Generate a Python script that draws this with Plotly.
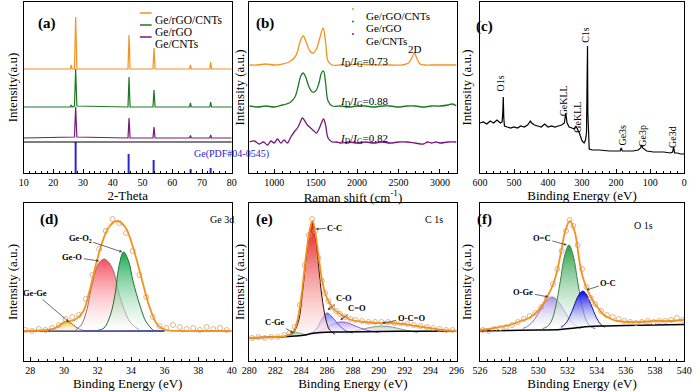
import plotly.graph_objects as go

W, H = 700, 392
SERIF = "Liberation Serif"

# ---------------- (a) XRD ----------------
XRD_OR_X = [10, 25.7, 26.0, 26.3, 27.1, 27.5, 27.9, 45.1, 45.45, 45.8, 53.5, 53.85, 54.2, 65.8, 66.1, 66.4, 72.6, 72.9, 73.2, 80]
XRD_OR_Y = [104, 104, 108, 104, 104, 156, 104, 104, 138, 104, 104, 125, 104, 104, 108, 104, 104, 111, 104, 104]
XRD_GR_X = [10, 25.7, 26.0, 26.3, 27.1, 27.5, 27.9, 45.1, 45.45, 45.8, 53.5, 53.85, 54.2, 65.8, 66.1, 66.4, 72.6, 72.9, 73.2, 80]
XRD_GR_Y = [66, 66, 68, 66, 67, 104, 67, 66, 96, 66, 66, 83, 66, 66, 70, 66, 66, 71, 66, 66]
XRD_PU_X = [10, 27.1, 27.5, 27.9, 45.1, 45.45, 45.8, 53.5, 53.85, 54.2, 65.8, 66.1, 66.4, 72.6, 72.9, 73.2, 80]
XRD_PU_Y = [35, 36, 66, 36, 35, 55, 35, 35, 46, 35, 35, 37.5, 35, 35, 38, 35, 35]
REF_POS = [27.5, 45.45, 53.85, 66.1, 72.9]
REF_INT = [31, 19, 13, 4, 5]
REF_SEPARATOR = 31

# ---------------- (b) Raman ----------------
RA_OR_X = [700, 800, 900, 1000, 1100, 1150, 1200, 1250, 1280, 1310, 1350, 1390, 1430, 1470, 1510, 1550, 1590, 1620, 1650, 1700, 1800, 1900, 2000, 2200, 2400, 2550, 2620, 2660, 2690, 2720, 2760, 2820, 2900, 3000, 3100, 3200]
RA_OR_Y = [108, 108, 109, 108, 109, 110, 112, 116, 121, 131, 137, 130, 122, 120, 124, 135, 145, 131, 112, 108, 108, 108, 109, 108, 108, 108, 110, 115, 120, 115, 109, 108, 108, 108, 108, 108]
RA_GR_X = [700, 800, 900, 1000, 1100, 1150, 1200, 1250, 1290, 1320, 1350, 1380, 1420, 1460, 1500, 1540, 1570, 1595, 1620, 1650, 1700, 1800, 1900, 2000, 2100, 2200, 2300, 2400, 2500, 2600, 2700, 2800, 2900, 3000, 3100, 3150, 3200]
RA_GR_Y = [67, 66, 67, 66, 68, 69, 71, 76, 87, 97, 100, 96, 86, 81, 82, 90, 100, 102, 90, 72, 67, 67, 66, 67, 67, 66, 67, 67, 66, 67, 67, 66, 67, 67, 68, 69, 67]
RA_PU_X = [700, 760, 820, 870, 920, 960, 1000, 1040, 1080, 1120, 1160, 1200, 1240, 1280, 1310, 1340, 1370, 1400, 1440, 1480, 1510, 1540, 1570, 1595, 1620, 1650, 1700, 1750, 1800, 1900, 2000, 2100, 2200, 2300, 2400, 2500, 2600, 2700, 2800, 2850, 2900, 2950, 3000, 3100, 3200]
RA_PU_Y = [31, 32, 29, 31, 28, 32, 30, 34, 30, 33, 30, 36, 41, 45, 50, 55, 52, 48, 45, 42, 40, 44, 50, 54, 48, 35, 31, 31, 30, 31, 30, 31, 30, 31, 30, 31, 31, 30, 29, 31, 30, 31, 30, 31, 31]
RA_RATIOS = ["0.73", "0.88", "0.82"]

# ---------------- (c) XPS survey ----------------
SV_X = [600, 590, 580, 570, 560, 550, 540, 535, 533, 531.5, 530, 528, 520, 510, 500, 490, 480, 470, 460, 452, 448, 440, 430, 420, 410, 400, 390, 380, 370, 360, 352, 348, 344, 338, 330, 322, 318, 314, 308, 300, 294, 290, 287, 285, 284, 283, 281, 279, 270, 250, 220, 200, 188, 185, 182, 170, 150, 135, 128, 125, 122, 110, 90, 60, 40, 34, 31, 28, 20, 10, 0]
SV_Y = [50, 51, 49, 52, 50, 53, 50, 51, 60, 76, 55, 47, 46, 45, 46, 45, 47, 46, 48, 52, 50, 48, 47, 46, 49, 46, 47, 46, 47, 48, 50, 60, 50, 46, 45, 44, 47, 44, 40, 32, 30, 33, 40, 100, 127, 60, 26, 24, 23, 23, 22, 22, 22, 25, 22, 22, 22, 23, 25, 28, 25, 22, 21, 21, 20, 21, 26, 20, 20, 19, 19]
SV_LABELS = ["O1s", "GeKLL", "GeKLL", "C1s", "Ge3s", "Ge3p", "Ge3d"]
SV_LABEL_X = [537, 352, 313, 289, 181, 122, 33]
SV_LABEL_Y = [90, 72, 56, 138, 38, 37, 36]

# ---------------- (d) Ge 3d ----------------
D_ENV_X = [27.6, 28.5, 29.0, 29.5, 30.06, 30.64, 31.13, 31.51, 31.9, 32.29, 32.68, 33.16, 33.65, 34.13, 34.62, 35.1, 35.58, 36.07, 37, 38, 39, 40]
D_ENV_Y = [30, 30.5, 31, 33, 39, 41, 49, 69, 96, 119, 134, 140, 134, 113, 83, 54, 36, 31, 30, 30, 30, 30]
D_GEO_X = [30.7, 31.03, 31.33, 31.71, 32.05, 32.39, 32.7, 32.97, 33.36, 33.94, 34.5]
D_GEO_Y = [31, 36, 49, 79, 97, 102, 98, 89, 63, 39, 31]
D_GEO2_X = [32.0, 32.39, 32.77, 33.07, 33.26, 33.55, 33.85, 34.13, 34.52, 34.9, 35.3]
D_GEO2_Y = [30.5, 33, 46, 69, 93, 109, 100, 79, 56, 39, 31]
D_GEGE_X = [29.2, 29.6, 29.9, 30.1, 30.4, 30.8, 31.2]
D_GEGE_Y = [30.5, 34, 38, 39.5, 38, 33, 30.5]
D_BASE_X = [27.6, 36.0]
D_BASE_Y = [30, 30]
D_PTS_X = [27.7, 28.1, 28.5, 28.9, 29.3, 29.7, 30.1, 30.5, 30.9, 31.3, 31.7, 32.1, 32.5, 32.9, 33.3, 33.7, 34.1, 34.5, 34.9, 35.3, 35.7, 36.1, 36.5, 36.9, 37.3, 37.7, 38.1, 38.5, 38.9, 39.3, 39.7]
D_PTS_Y = [31, 30, 32, 31, 33, 36, 42, 44, 46, 62, 86, 112, 130, 142, 138, 128, 110, 86, 64, 44, 35, 33, 36, 34, 32, 33, 31, 34, 32, 33, 31]

# ---------------- (e) C 1s ----------------
E_ENV_X = [280, 281, 282, 282.8, 283.37, 283.7, 284.0, 284.38, 284.65, 284.88, 285.1, 285.4, 285.64, 285.9, 286.14, 286.5, 286.9, 287.4, 287.9, 288.9, 289.9, 290.9, 291.9, 292.9, 293.9, 294.9, 296]
E_ENV_Y = [23, 23.5, 24, 25, 29, 40, 63, 106, 130, 140, 128, 100, 79, 66, 59, 52, 48, 44, 41, 39, 38, 38, 37, 35, 33, 31, 30]
E_CC_X = [283.0, 283.4, 283.8, 284.1, 284.4, 284.65, 284.85, 285.1, 285.35, 285.6, 285.9, 286.2, 286.6]
E_CC_Y = [25, 28, 40, 68, 105, 130, 139, 125, 95, 65, 42, 31, 27]
E_CO_X = [284.7, 285.2, 285.6, 286.0, 286.4, 286.9, 287.5, 288.0]
E_CO_Y = [27, 32, 42, 48, 44, 36, 30, 28]
E_C2O_X = [284.9, 285.6, 286.3, 287.0, 287.5, 288.2, 289.0, 290.0]
E_C2O_Y = [27, 31, 36, 39, 38.5, 35, 31, 28.5]
E_OCO_X = [287.5, 288.5, 289.5, 290.3, 291.0, 292.0, 293.0]
E_OCO_Y = [28, 31, 34, 35, 34, 31, 28.5]
E_CGE_X = [282.7, 283.2, 283.6, 284.0, 284.4]
E_CGE_Y = [25, 27, 28.5, 27.5, 26]
E_BASE_X = [280, 282, 283.5, 284.3, 284.8, 285.5, 287, 290, 293, 296]
E_BASE_Y = [23, 24, 25, 26, 27.5, 28.5, 29, 29.5, 29.8, 30]
E_PTS_X = [280.2, 280.7, 281.2, 281.7, 282.2, 282.7, 283.1, 283.5, 283.9, 284.3, 284.6, 284.85, 285.1, 285.35, 285.6, 285.85, 286.1, 286.4, 286.7, 287.0, 287.4, 287.8, 288.2, 288.7, 289.2, 289.7, 290.2, 290.7, 291.2, 291.7, 292.2, 292.7, 293.2, 293.7, 294.2, 294.7, 295.2, 295.7]
E_PTS_Y = [23, 24, 23, 24, 24, 26, 28, 34, 56, 96, 126, 142, 130, 103, 80, 68, 60, 54, 50, 47, 44, 42, 41, 40, 39, 39, 39, 39, 38, 38, 37, 36, 35, 34, 33, 32, 31, 31]

# ---------------- (f) O 1s ----------------
F_ENV_X = [526, 527, 528.03, 528.8, 529.37, 529.9, 530.27, 530.6, 530.94, 531.2, 531.38, 531.6, 531.83, 532.16, 532.5, 532.83, 533.05, 533.28, 533.6, 533.84, 534.2, 534.5, 535.0, 535.4, 536.2, 536.97, 538, 539, 540]
F_ENV_Y = [31, 33, 36, 40, 43, 49, 56, 64, 74, 85, 96, 112, 129, 140, 129, 99, 84, 74, 64, 58, 51, 46, 42, 40, 39, 39, 40, 40, 41]
F_OC2_X = [530.3, 530.6, 530.9, 531.2, 531.5, 531.8, 532.1, 532.4, 532.7, 533.0, 533.3, 533.6, 533.9]
F_OC2_Y = [32.5, 34.3, 40, 55, 79, 105, 116, 105, 79, 55, 40, 34.3, 32.5]
F_OGE_X = [528.94, 529.34, 529.74, 530.14, 530.54, 530.94, 531.34, 531.74, 532.14, 532.54, 532.94]
F_OGE_Y = [32.5, 35.5, 41.7, 51, 60, 64, 60, 51, 41.7, 35.5, 32.5]
F_OC_X = [531.55, 531.85, 532.15, 532.45, 532.75, 533.05, 533.35, 533.65, 533.95, 534.25, 534.55]
F_OC_Y = [33.7, 37.1, 44.3, 55, 65.5, 70, 65.5, 55, 44.3, 37.1, 33.7]
F_BASE_X = [526, 528, 530, 531.5, 532.5, 533.5, 534.5, 536, 540]
F_BASE_Y = [30, 30.5, 31, 31.5, 33, 34.5, 35, 35.5, 36.5]
F_PTS_X = [526.2, 526.6, 527.0, 527.4, 527.8, 528.2, 528.6, 529.0, 529.4, 529.8, 530.2, 530.6, 531.0, 531.3, 531.6, 531.9, 532.15, 532.4, 532.7, 533.0, 533.3, 533.6, 533.9, 534.3, 534.7, 535.1, 535.5, 535.9, 536.3, 536.7, 537.1, 537.5, 537.9, 538.3, 538.7, 539.1, 539.5, 539.9]
F_PTS_Y = [31, 30, 32, 33, 34, 36, 39, 42, 45, 48, 54, 63, 77, 92, 110, 130, 141, 135, 116, 92, 74, 63, 57, 50, 46, 44, 42, 40, 39, 38, 39, 40, 39, 40, 40, 41, 43, 41]

SERIES_NAMES = ["Ge/rGO/CNTs", "Ge/rGO", "Ge/CNTs"]
ORANGE, GREEN, PURPLE = "rgb(245,145,30)", "rgb(30,120,35)", "rgb(120,25,120)"
PT_COLOR = "rgb(205,165,115)"

# panel geometry in pixels: (x0, x1, ytop, ybottom)
PANELS = [(16, 229, 2, 173), (247, 459, 2, 173), (483, 692, 2, 173),
          (16, 229, 203, 361), (247, 459, 203, 361), (483, 692, 203, 361)]
XRANGES = [[10, 80], [700, 3200], [600, 0], [27.6, 40], [280, 296], [526, 540]]
XTITLES = ["2-Theta", "Raman shift (cm<sup>-1</sup>)", "Binding Energy (eV)",
           "Binding Energy (eV)", "Binding Energy (eV)", "Binding Energy (eV)"]
YTITLES = ["Intensity(a.u)"] + ["Intensity (a.u.)"] * 5
DTICKS = [10, 500, 100, 2, 2, 2]
TICK0 = [10, 1000, 0, 28, 280, 526]
YSTAND = [1, 0, 4, 1, 0, 4]

fig = go.Figure()
ax = lambda i: ("x" if i == 0 else f"x{i+1}")
ay = lambda i: ("y" if i == 0 else f"y{i+1}")


def line(i, x, y, color, width=1.2, shape="linear", **kw):
    fig.add_trace(go.Scatter(x=x, y=y, mode="lines", xaxis=ax(i), yaxis=ay(i),
                             line=dict(color=color, width=width, shape=shape),
                             showlegend=False, hoverinfo="skip", **kw))


def comp(i, x, y, linecolor, top, bottom, width=1.0):
    fig.add_trace(go.Scatter(x=x, y=y, mode="lines", xaxis=ax(i), yaxis=ay(i),
                             fill="toself",
                             fillgradient=dict(type="vertical", colorscale=[[0, bottom], [1, top]]),
                             line=dict(color=linecolor, width=width, shape="spline"),
                             showlegend=False, hoverinfo="skip"))


def pts(i, x, y):
    fig.add_trace(go.Scatter(x=x, y=y, mode="markers", xaxis=ax(i), yaxis=ay(i),
                             marker=dict(symbol="circle-open", size=5, color=PT_COLOR, line=dict(width=0.8)),
                             showlegend=False, hoverinfo="skip"))


# (a)
fig.add_trace(go.Bar(x=REF_POS, y=REF_INT, width=0.3, marker=dict(color="rgb(40,40,210)", line=dict(width=0)),
                     xaxis="x", yaxis="y", showlegend=False, hoverinfo="skip"))
line(0, XRD_PU_X, XRD_PU_Y, PURPLE)
line(0, XRD_GR_X, XRD_GR_Y, GREEN)
line(0, XRD_OR_X, XRD_OR_Y, ORANGE)

# (b)
line(1, RA_PU_X, RA_PU_Y, PURPLE, 1.3, "spline")
line(1, RA_GR_X, RA_GR_Y, GREEN, 1.3, "spline")
line(1, RA_OR_X, RA_OR_Y, ORANGE, 1.3, "spline")

# (c)
line(2, SV_X, SV_Y, "black", 1.2)

# (d)
line(3, D_BASE_X, D_BASE_Y, "rgb(30,30,140)", 1.5)
comp(3, D_GEGE_X, D_GEGE_Y, "rgb(120,110,30)", "rgb(240,200,50)", "rgba(255,250,220,0.6)")
comp(3, D_GEO_X, D_GEO_Y, "rgb(150,105,105)", "rgb(245,80,95)", "rgba(255,255,255,0.4)")
comp(3, D_GEO2_X, D_GEO2_Y, "rgb(40,110,50)", "rgb(20,170,80)", "rgba(255,255,255,0.4)")
pts(3, D_PTS_X, D_PTS_Y)
line(3, D_ENV_X, D_ENV_Y, ORANGE, 1.8, "spline")

# (e)
comp(4, E_OCO_X, E_OCO_Y, "rgb(150,150,150)", "rgb(180,200,180)", "rgba(255,255,255,0.4)")
comp(4, E_C2O_X, E_C2O_Y, "rgb(150,90,210)", "rgb(190,160,240)", "rgba(255,255,255,0.4)")
comp(4, E_CO_X, E_CO_Y, "rgb(90,90,220)", "rgb(120,130,235)", "rgba(255,255,255,0.4)")
comp(4, E_CGE_X, E_CGE_Y, "rgb(20,120,30)", "rgb(40,170,60)", "rgba(200,240,200,0.6)")
comp(4, E_CC_X, E_CC_Y, "rgb(60,10,10)", "rgb(230,25,25)", "rgba(255,240,240,0.5)")
line(4, E_BASE_X, E_BASE_Y, "black", 1.5, "spline")
pts(4, E_PTS_X, E_PTS_Y)
line(4, E_ENV_X, E_ENV_Y, ORANGE, 1.8, "spline")

# (f)
comp(5, F_OGE_X, F_OGE_Y, "rgb(150,100,200)", "rgb(170,150,230)", "rgba(255,255,255,0.4)")
comp(5, F_OC2_X, F_OC2_Y, "rgb(60,130,70)", "rgb(40,160,70)", "rgba(255,255,255,0.4)")
comp(5, F_OC_X, F_OC_Y, "rgb(20,20,150)", "rgb(0,0,230)", "rgba(255,255,255,0.4)")
line(5, F_BASE_X, F_BASE_Y, "black", 1.5, "spline")
pts(5, F_PTS_X, F_PTS_Y)
line(5, F_ENV_X, F_ENV_Y, ORANGE, 1.8, "spline")

# axes
layout = dict(width=W, height=H, margin=dict(l=0, r=0, t=0, b=0),
              paper_bgcolor="white", plot_bgcolor="white", showlegend=False,
              font=dict(family=SERIF, color="black", size=10))
for i, (x0, x1, yt, yb) in enumerate(PANELS):
    xa = "xaxis" if i == 0 else f"xaxis{i+1}"
    ya = "yaxis" if i == 0 else f"yaxis{i+1}"
    layout[xa] = dict(domain=[x0 / W, x1 / W], anchor=ay(i), range=XRANGES[i],
                      showline=True, mirror=True, linecolor="black", linewidth=1.3,
                      ticks="inside", ticklen=4, tickwidth=1, tickcolor="black",
                      dtick=DTICKS[i], tick0=TICK0[i],
                      minor=dict(ticks="inside", ticklen=2, tickwidth=1, tickcolor="black"),
                      tickfont=dict(family=SERIF, size=10, color="black"),
                      showgrid=False, zeroline=False,
                      title=dict(text=XTITLES[i], font=dict(family=SERIF, size=13), standoff=1))
    layout[ya] = dict(domain=[1 - yb / H, 1 - yt / H], anchor=ax(i), range=[0, yb - yt],
                      showline=True, mirror=True, linecolor="black", linewidth=1.3,
                      ticks="", showticklabels=False, showgrid=False, zeroline=False,
                      title=dict(text=YTITLES[i], font=dict(family=SERIF, size=13), standoff=YSTAND[i]))
fig.update_layout(**layout)

ann = []
shapes = []
# panel letters
LETTERS = ["(a)", "(b)", "(c)", "(d)", "(e)", "(f)"]
LETTER_POS = [(29, 13), (263, 13), (498, 16), (31, 220), (262, 219), (497, 219)]
for t, (px, py) in zip(LETTERS, LETTER_POS):
    ann.append(dict(text=f"<b>{t}</b>", x=px / W, y=1 - py / H, xref="paper", yref="paper",
                    showarrow=False, font=dict(size=15, family=SERIF)))

# legend (a): line samples + text
LEG_A_Y = [13, 25, 37]
for name, col, py in zip(SERIES_NAMES, [ORANGE, GREEN, PURPLE], LEG_A_Y):
    shapes.append(dict(type="line", xref="paper", yref="paper", x0=135 / W, x1=147 / W,
                       y0=1 - py / H, y1=1 - py / H, line=dict(color=col, width=1.5)))
    ann.append(dict(text=name, x=149 / W, y=1 - py / H, xref="paper", yref="paper", xanchor="left",
                    showarrow=False, borderpad=0, font=dict(size=11.5, family=SERIF)))
# legend (b): dots + text
LEG_B_Y = [9, 21.5, 34]
for name, col, py in zip(SERIES_NAMES, [ORANGE, GREEN, PURPLE], LEG_B_Y):
    shapes.append(dict(type="circle", xref="paper", yref="paper", x0=352 / W, x1=354 / W,
                       y0=1 - (py + 1) / H, y1=1 - (py - 1) / H, fillcolor=col, line=dict(width=0)))
    ann.append(dict(text=name, x=365 / W, y=1 - py / H, xref="paper", yref="paper", xanchor="left",
                    showarrow=False, borderpad=0, font=dict(size=11, family=SERIF)))

# separator & ref label in (a)
shapes.append(dict(type="line", xref="x domain", yref="y", x0=0, x1=1, y0=REF_SEPARATOR, y1=REF_SEPARATOR,
                   line=dict(color="black", width=1.2)))
ann.append(dict(text="Ge(PDF#04-0545)", x=188 / W, y=1 - 154 / H, xref="paper", yref="paper",
                showarrow=False, font=dict(size=10, family=SERIF, color="rgb(40,40,200)")))

# Raman annotations
for r, py in zip(RA_RATIOS, [53, 93, 130]):
    ann.append(dict(text=f"<i>I</i><sub>D</sub>/<i>I</i><sub>G</sub>={r}", x=338 / W, y=1 - py / H,
                    xref="paper", yref="paper", xanchor="left", showarrow=False,
                    font=dict(size=11, family=SERIF)))
ann.append(dict(text="2D", x=2695, y=173 - 49, xref="x2", yref="y2", showarrow=False, borderpad=0,
                font=dict(size=11, family=SERIF)))

# survey labels
for t, x, y in zip(SV_LABELS, SV_LABEL_X, SV_LABEL_Y):
    ann.append(dict(text=t, x=x, y=y, xref="x3", yref="y3", textangle=-90, showarrow=False,
                    font=dict(size=10, family=SERIF)))

# core level titles
for t, (px, py) in zip(["Ge 3d", "C 1s", "O 1s"], [(205, 219), (436, 219), (662, 225)]):
    ann.append(dict(text=t, x=px / W, y=1 - py / H, xref="paper", yref="paper", showarrow=False,
                    font=dict(size=10, family=SERIF)))

# component labels with arrows: (text, axis index, x, y, ax, ay)
COMP_LABELS = [
    ("Ge-O<sub>2</sub>", 3, 33.47, 109, -42, -14),
    ("Ge-O", 3, 32.1, 100, -27, -4),
    ("Ge-Ge", 3, 30.3, 39, -34, -29),
    ("C-C", 4, 285.13, 132, 19, -1),
    ("C-O", 4, 286.04, 51, 16, -12),
    ("C=O", 4, 287.02, 41, 17, -12),
    ("O-C=O", 4, 290.26, 38, 29, -5),
    ("C-Ge", 4, 283.4, 28, -18, -11),
    ("O=C", 5, 531.96, 116, -25, -7),
    ("O-C", 5, 533.3, 71, 22, -7),
    ("O-Ge", 5, 530.69, 64, -25, -5),
]
for t, i, x, y, dx, dy in COMP_LABELS:
    ann.append(dict(text=f"<b>{t}</b>", x=x, y=y, xref=ax(i), yref=ay(i), ax=dx, ay=dy,
                    showarrow=True, arrowhead=2, arrowsize=0.7, arrowwidth=0.8, arrowcolor="rgb(70,70,70)",
                    font=dict(size=8.5, family=SERIF)))

fig.update_layout(annotations=ann, shapes=shapes)
fig.write_html("out.html", config={"displayModeBar": False},
               post_script="document.body.style.margin='0px';")
